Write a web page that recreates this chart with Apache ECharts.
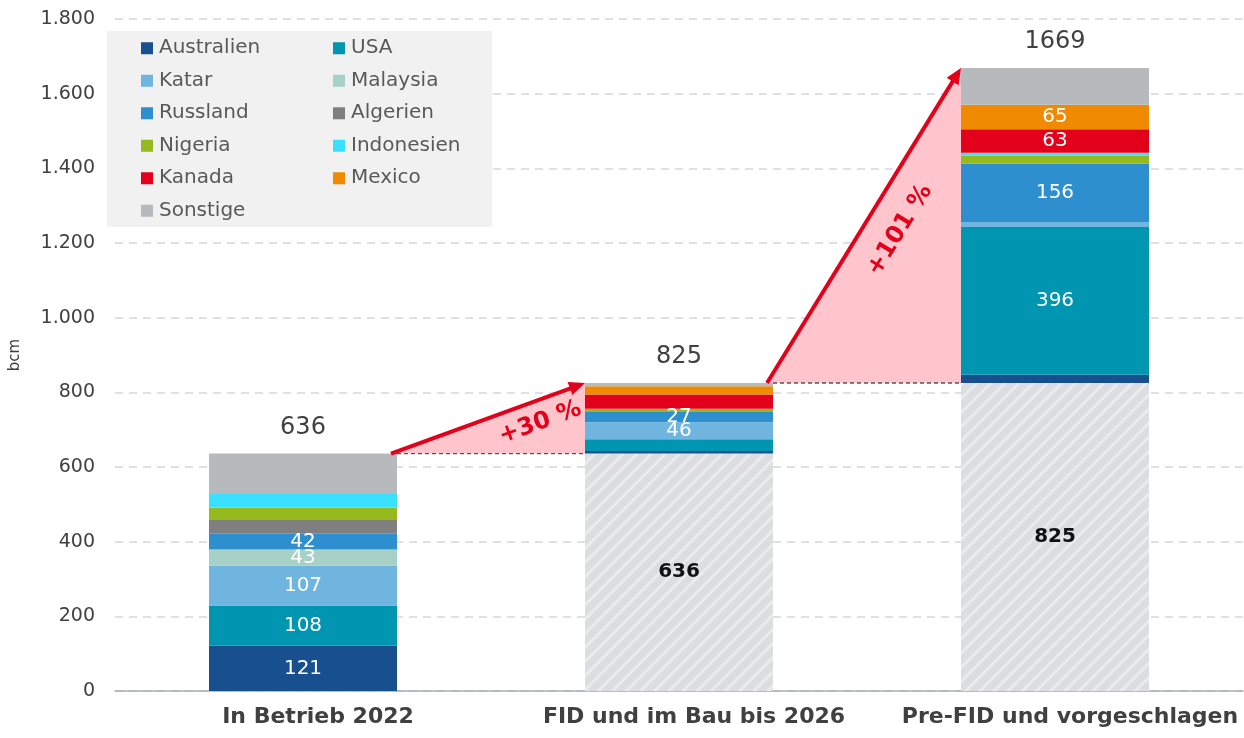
<!DOCTYPE html>
<html>
<head>
<meta charset="utf-8">
<script src="https://cdn.jsdelivr.net/npm/echarts@6/dist/echarts.min.js"></script>
<style>
  html, body { margin: 0; padding: 0; background: #fff; }
  #chart { width: 1244px; height: 738px; }
</style>
</head>
<body>
<div id="chart"></div>
<script>
// LNG-Exportkapazitaeten in bcm
const categories = ['In Betrieb 2022', 'FID und im Bau bis 2026', 'Pre-FID und vorgeschlagen']
const bestand = [0, 636, 825]
const australien = [121, 7, 22]
const usa = [108, 31, 396]
const katar = [107, 46, 13]
const malaysia = [43, 0, 0]
const russland = [42, 27, 156]
const algerien = [39, 0, 0]
const nigeria = [31, 9, 22]
const indonesien = [37, 0, 8]
const kanada = [0, 38, 63]
const mexico = [0, 22, 65]
const sonstige = [108, 9, 99]
const totals = [636, 825, 1669]
const growthLabels = ['+30 %', '+101 %']

// which bars carry a value label
const labelled = {
  Australien: [0],
  USA: [0, 2],
  Katar: [0, 1],
  Malaysia: [0],
  Russland: [0, 1, 2],
  Kanada: [2],
  Mexico: [2]
}

const countries = [
  { name: 'Australien', data: australien, color: '#174f8f' },
  { name: 'USA', data: usa, color: '#0095b0' },
  { name: 'Katar', data: katar, color: '#70b5e0' },
  { name: 'Malaysia', data: malaysia, color: '#a7d0c6' },
  { name: 'Russland', data: russland, color: '#2e8fcf' },
  { name: 'Algerien', data: algerien, color: '#7f7f7f' },
  { name: 'Nigeria', data: nigeria, color: '#96b91d' },
  { name: 'Indonesien', data: indonesien, color: '#3ae0ff' },
  { name: 'Kanada', data: kanada, color: '#e2001a' },
  { name: 'Mexico', data: mexico, color: '#f08a00' },
  { name: 'Sonstige', data: sonstige, color: '#b6babd' }
]

const FONT = 'DejaVu Sans'
const RED = '#e2001a'
const chart = echarts.init(document.getElementById('chart'), null, { renderer: 'canvas' })

const seriesList = [{
  name: 'Bestand',
  type: 'bar',
  stack: 'total',
  barWidth: '50%',
  data: bestand,
  itemStyle: {
    color: '#dcdde0',
    decal: {
      symbol: 'rect',
      symbolSize: 1,
      color: 'rgba(255,255,255,0.4)',
      dashArrayX: [1, 0],
      dashArrayY: [3, 7],
      rotation: -Math.PI / 4
    }
  },
  label: {
    show: true,
    position: 'inside',
    color: '#111',
    fontFamily: FONT,
    fontWeight: 'bold',
    fontSize: 20,
    formatter: p => (p.value ? p.value : '')
  }
}]

countries.forEach(c => {
  const shown = labelled[c.name] || []
  seriesList.push({
    name: c.name,
    type: 'bar',
    stack: 'total',
    barWidth: '50%',
    itemStyle: { color: c.color },
    label: c.name === 'Sonstige' ? {
      show: true,
      position: 'top',
      distance: 14,
      color: '#404040',
      fontFamily: FONT,
      fontSize: 24,
      formatter: p => totals[p.dataIndex]
    } : {
      show: false,
      position: 'inside',
      color: '#fff',
      fontFamily: FONT,
      fontSize: 20
    },
    data: c.data.map((v, i) => shown.indexOf(i) >= 0 ? { value: v, label: { show: true } } : v)
  })
})

// growth arrows between the bars
seriesList.push({
  type: 'custom',
  z: 5,
  silent: true,
  data: growthLabels.map((t, i) => [i, totals[i], totals[i + 1]]),
  renderItem (params, api) {
    const i = api.value(0)
    const half = api.size([1, 0])[0] * 0.25
    const p0 = api.coord([i, api.value(1)])
    const p1 = api.coord([i + 1, api.value(2)])
    const xs = p0[0] + half - 6
    const xd = p0[0] + half
    const x2 = p1[0] - half
    const yb = p0[1]
    const yt = p1[1]
    const dx = x2 - xs
    const dy = yt - yb
    const len = Math.sqrt(dx * dx + dy * dy)
    const ux = dx / len
    const uy = dy / len
    const head = 16
    const bx = x2 - ux * head
    const by = yt - uy * head
    const nx = -uy
    const ny = ux
    // text placement along the arrow, inside the triangle
    const t = i === 0 ? 0.73 : 0.54
    const off = i === 0 ? 22 : 33
    const tx = xs + dx * t + nx * off
    const ty = yb + dy * t + ny * off
    return {
      type: 'group',
      children: [{
        type: 'polygon',
        shape: { points: [[xs, yb], [x2, yb], [x2, yt]] },
        style: { fill: '#ffc5cc' }
      }, {
        type: 'line',
        shape: { x1: xd, y1: yb, x2: x2, y2: yb },
        style: { stroke: '#555', lineWidth: 1.3, lineDash: [4, 3] }
      }, {
        type: 'line',
        shape: { x1: xs, y1: yb, x2: bx + ux * 2, y2: by + uy * 2 },
        style: { stroke: RED, lineWidth: 4 }
      }, {
        type: 'polygon',
        shape: { points: [[x2, yt], [bx + nx * 7, by + ny * 7], [bx - nx * 7, by - ny * 7]] },
        style: { fill: RED }
      }, {
        type: 'text',
        x: tx,
        y: ty,
        rotation: Math.atan2(-dy, dx),
        style: {
          text: growthLabels[i],
          fill: RED,
          font: 'bold 24px "' + FONT + '"',
          align: 'center',
          verticalAlign: 'middle'
        }
      }]
    }
  }
})

const option = {
  animation: false,
  aria: { enabled: false },
  textStyle: { fontFamily: FONT },
  grid: {
    left: 114,
    right: 1,
    top: 19,
    bottom: 47,
    containLabel: false
  },
  graphic: [{
    type: 'rect',
    z: 1,
    left: 107,
    top: 31,
    shape: { width: 385, height: 196 },
    style: { fill: '#f0f1f0' }
  }],
  legend: {
    data: countries.map(c => c.name),
    left: 141,
    top: 36,
    width: 380,
    padding: 0,
    itemGap: 8,
    itemWidth: 12,
    itemHeight: 12,
    icon: 'rect',
    z: 3,
    textStyle: {
      color: '#595959',
      fontFamily: FONT,
      fontSize: 20,
      width: 166,
      lineHeight: 24.5,
      padding: [0, 0, 0, 1]
    }
  },
  xAxis: {
    type: 'category',
    data: categories,
    axisTick: { show: false },
    axisLine: { lineStyle: { color: '#a8adb2', width: 1.5 } },
    axisLabel: {
      interval: 0,
      color: '#404040',
      fontFamily: FONT,
      fontWeight: 'bold',
      fontSize: 22,
      margin: 15,
      padding: [0, 0, 0, 30]
    }
  },
  yAxis: {
    type: 'value',
    min: 0,
    max: 1800,
    interval: 200,
    name: 'bcm',
    nameLocation: 'middle',
    nameGap: 92,
    nameRotate: 90,
    nameTextStyle: { color: '#404040', fontSize: 15, fontFamily: FONT },
    axisLine: { show: false },
    axisTick: { show: false },
    axisLabel: {
      color: '#404040',
      fontFamily: FONT,
      fontSize: 19,
      margin: 20,
      formatter: v => String(v).replace(/\B(?=(\d{3})+(?!\d))/g, '.')
    },
    splitLine: { lineStyle: { color: '#d4d8dc', width: 1.5, type: [8, 6] } }
  },
  series: seriesList
}

chart.setOption(option)
</script>
</body>
</html>
